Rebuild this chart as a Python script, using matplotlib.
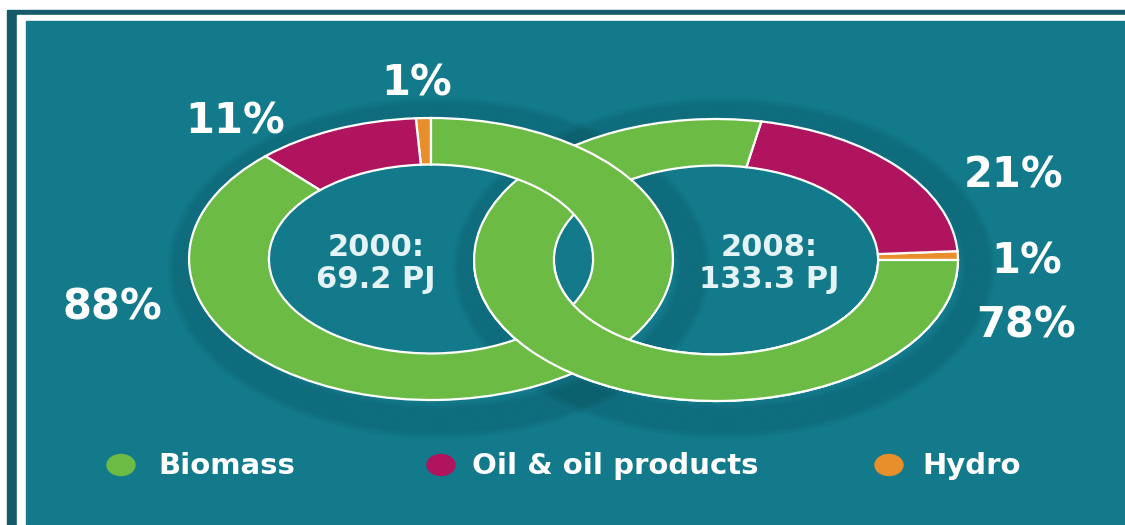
import matplotlib as mpl
mpl.use('Agg')

import matplotlib.pyplot as plt
from matplotlib.patches import Rectangle, Ellipse
#
#--- energy supply shares (percent) by source
#
sources    = ['Hydro', 'Oil & oil products', 'Biomass']
share_2000 = [1, 11, 88]
share_2008 = [1, 21, 78]
years      = ['2000', '2008']
totals     = ['69.2 PJ', '133.3 PJ']
legend_src = ['Biomass', 'Oil & oil products', 'Hydro']
#
#--- colors
#
c_list = {'Biomass': '#6cbb45', 'Oil & oil products': '#b0145e', 'Hydro': '#e88f2c'}
bg_col   = '#127a8b'
dark_col = '#155a68'
txt_col  = 'white'
#
#--- canvas is 1125 x 525 px; the artwork is stretched sideways
#
W, H = 1125, 525
SX   = 1.716            #--- horizontal stretch of the rings
CUT  = 259              #--- below this row the right ring lies on top

def X(px):
    return px / SX

def Y(py):
    return H - py

#---------------------------------------------------------------------------------------
#-- draw_ring: draw one donut                                                         --
#---------------------------------------------------------------------------------------

def draw_ring(ax, vals, cx, cy, start, zorder, clip=None):

    wedges, _ = ax.pie(vals, colors=[c_list[s] for s in sources], startangle=start,
                       counterclock=True, radius=141, center=(X(cx), Y(cy)),
                       wedgeprops=dict(width=141 * 0.33, edgecolor='white', linewidth=1.6))
    for w in wedges:
        w.set_zorder(zorder)
        if clip is not None:
#
#--- pie wedges come with clip_on=False; turn it back on
#
            w.set_clip_path(clip)
            w.set_clip_on(True)
    return wedges

#---------------------------------------------------------------------------------------

fig = plt.figure(figsize=(W / 100, H / 100), dpi=100)
fig.patch.set_facecolor('white')
ax  = fig.add_axes([0, 0, 1, 1])
#
#--- frame: white page, dark band, thin white line, teal panel
#
ax.add_patch(Rectangle((X(7),  0), X(W) - X(7),  Y(10), color=dark_col, zorder=0))
ax.add_patch(Rectangle((X(17), 0), X(W) - X(17), Y(15), color='white',  zorder=0))
ax.add_patch(Rectangle((X(26), 0), X(W) - X(26), Y(21), color=bg_col,   zorder=0))
#
#--- soft shadow under the rings
#
for k in range(10):
    for cx in (431, 716):
        ax.add_patch(Ellipse((X(cx + 8), Y(268)), 2 * X(240 + 3 * k), 2 * (139 + 3 * k),
                             fill=False, lw=6, ec='black', alpha=0.035, zorder=0.5))
#
#--- rings: right one below, left one over it, then the lower half of the right one on top
#
draw_ring(ax, share_2008, 716, 260, 0,  1)
draw_ring(ax, share_2000, 431, 259, 90, 2)
clip = Rectangle((0, 0), X(W), Y(CUT), transform=ax.transData)
draw_ring(ax, share_2008, 716, 260, 0,  3, clip=clip)
#
#--- percentage labels (baseline positions in px)
#
lab_pos_2000 = [(417, 96), (235, 134), (112, 320)]
lab_pos_2008 = [(1027, 273), (1014, 188), (1026, 338)]

for vals, pos in [(share_2000, lab_pos_2000), (share_2008, lab_pos_2008)]:
    for v, (px, py) in zip(vals, pos):
        ax.text(X(px), Y(py), f'{v}%', color=txt_col, fontsize=30, fontweight='bold',
                ha='center', va='baseline', zorder=5)
#
#--- totals inside the rings
#
for yr, tot, cx in zip(years, totals, (376, 769)):
    ax.text(X(cx), Y(256), yr + ':', color='#e4f3f5', fontsize=22, fontweight='bold',
            ha='center', va='baseline', zorder=5)
    ax.text(X(cx), Y(288), tot, color='#e4f3f5', fontsize=22, fontweight='bold',
            ha='center', va='baseline', zorder=5)
#
#--- legend
#
leg_dot = [121, 441, 889]
leg_txt = [158, 472, 922]
for src, dx, tx in zip(legend_src, leg_dot, leg_txt):
    ax.add_patch(Ellipse((X(dx), Y(465)), X(28), 21, color=c_list[src], zorder=5))
    ax.text(X(tx), Y(474), src, color=txt_col, fontsize=21, fontweight='bold',
            ha='left', va='baseline', zorder=5)

ax.set_aspect('auto')
ax.set_xlim(0, X(W))
ax.set_ylim(0, H)
ax.axis('off')

plt.savefig('out.png', dpi=100, facecolor='white')
plt.close('all')
